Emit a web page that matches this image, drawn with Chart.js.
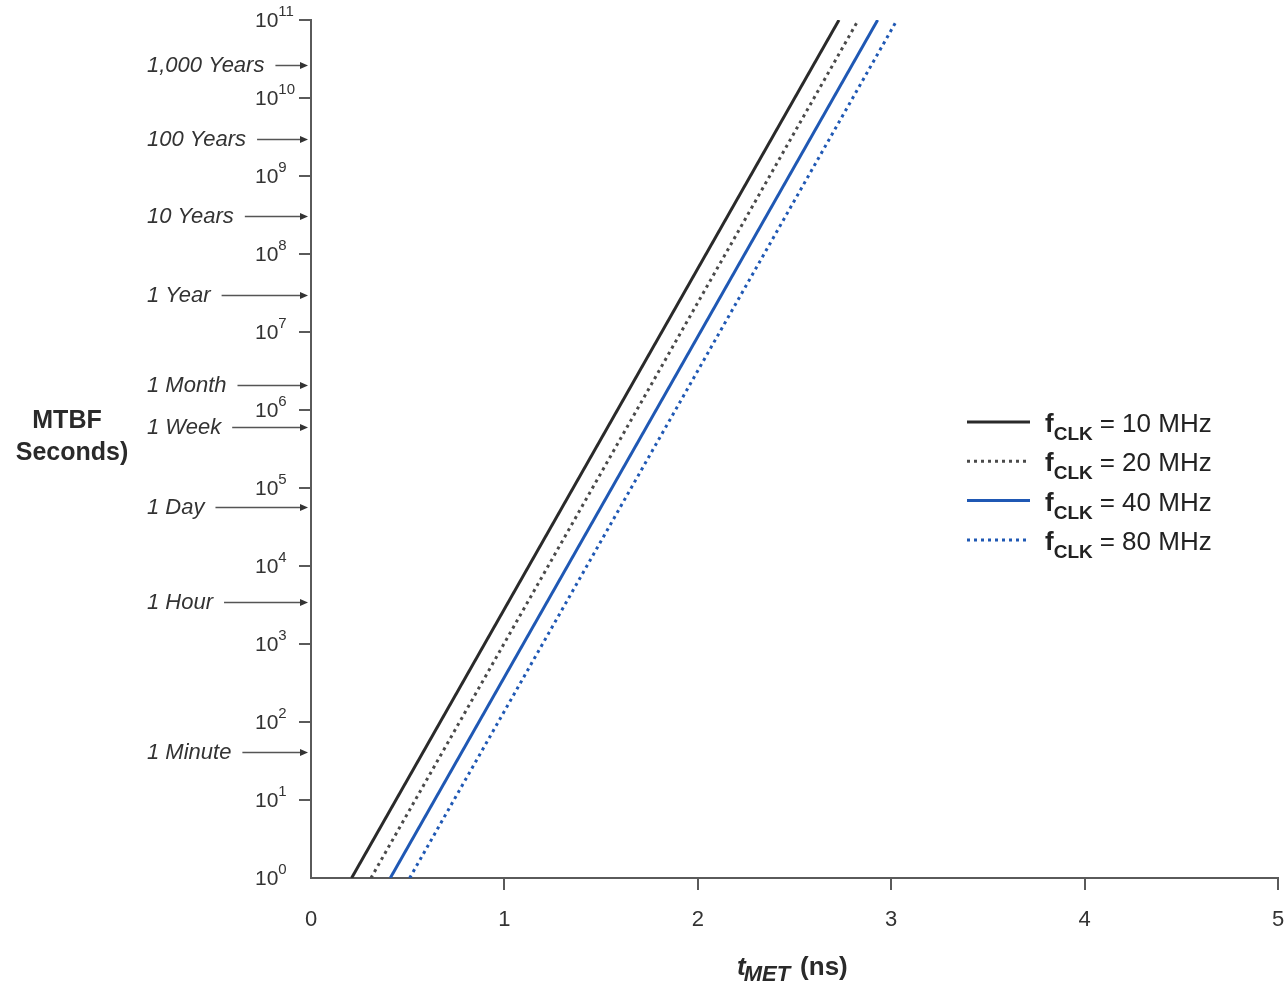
<!DOCTYPE html>
<html>
<head>
<meta charset="utf-8">
<title>MTBF vs tMET</title>
<script src="https://cdn.jsdelivr.net/npm/chart.js@4.4.1/dist/chart.umd.min.js"></script>
<style>
  html, body { margin: 0; padding: 0; background: #fff; }
  #wrap { width: 1287px; height: 982px; }
</style>
</head>
<body>
<div id="wrap"><canvas id="mtbfChart" width="1287" height="982"></canvas></div>
<script>
// series: endpoints of each straight line (tMET in ns, MTBF in seconds)
const seriesFreqs = [10, 20, 40, 80];
const tStart = [0.21, 0.31, 0.41, 0.51];
const tEnd = [2.73, 2.83, 2.93, 3.03];
const mtbfStart = [1, 1, 1, 1];
const mtbfEnd = [1e11, 1e11, 1e11, 1e11];

// axes
const xTickValues = [0, 1, 2, 3, 4, 5];
const yTickExponents = [0, 1, 2, 3, 4, 5, 6, 7, 8, 9, 10, 11];

// time markers on the MTBF axis (seconds)
const markerLabels = ['1,000 Years', '100 Years', '10 Years', '1 Year', '1 Month', '1 Week', '1 Day', '1 Hour', '1 Minute'];
const markerSeconds = [2.65e10, 2.98e9, 3.07e8, 2.98e7, 2.09e6, 6.05e5, 5.7e4, 3.45e3, 41];

const lineColors = ['#2a2a2a', '#4a4a4a', '#1f58b4', '#1f58b4'];
const lineDashes = [[], [3, 4], [], [3, 4]];

const FONT = '"Liberation Sans", Arial, Helvetica, sans-serif';
const AXIS_GREY = '#5a5a5a';
const NONE = 'rgba(0,0,0,0)';

const datasets = seriesFreqs.map((f, i) => ({
    label: 'fCLK = ' + f + ' MHz',
    data: [{x: tStart[i], y: mtbfStart[i]}, {x: tEnd[i], y: mtbfEnd[i]}],
    borderColor: lineColors[i],
    borderWidth: 3,
    borderDash: lineDashes[i],
    pointRadius: 0,
    showLine: true,
    fill: false
}));

// extra text: power-of-ten labels, marker arrows, axis titles, legend with subscripts
const decorPlugin = {
    id: 'mtbfDecor',
    afterDraw(chart) {
        const ctx = chart.ctx;
        const xs = chart.scales.x;
        const ys = chart.scales.y;
        ctx.save();

        // y tick labels 10^n
        ctx.fillStyle = '#333';
        ctx.textAlign = 'left';
        ctx.textBaseline = 'middle';
        ys.ticks.forEach(t => {
            const py = ys.getPixelForValue(t.value);
            const exp = Math.round(Math.log10(t.value));
            ctx.font = '21px ' + FONT;
            ctx.fillText('10', 255, py + 1);
            const w = ctx.measureText('10').width;
            ctx.font = '15px ' + FONT;
            ctx.fillText(String(exp), 255 + w, py - 8);
        });

        // time markers
        ctx.font = 'italic 22px ' + FONT;
        ctx.strokeStyle = '#555';
        ctx.lineWidth = 1.5;
        markerLabels.forEach((label, i) => {
            const py = Math.round(ys.getPixelForValue(markerSeconds[i])) + 0.5;
            const tx = 147;
            ctx.fillStyle = '#333';
            ctx.fillText(label, tx, py);
            const w = ctx.measureText(label).width;
            const x0 = tx + w + 11;
            const x1 = xs.left - 3;
            ctx.beginPath();
            ctx.moveTo(x0, py);
            ctx.lineTo(x1 - 6, py);
            ctx.stroke();
            ctx.beginPath();
            ctx.moveTo(x1, py);
            ctx.lineTo(x1 - 8, py - 3.5);
            ctx.lineTo(x1 - 8, py + 3.5);
            ctx.closePath();
            ctx.fill();
        });

        // y axis title
        ctx.fillStyle = '#2a2a2a';
        ctx.font = 'bold 25px ' + FONT;
        ctx.textAlign = 'center';
        ctx.fillText('MTBF', 67, 421);
        ctx.fillText('Seconds)', 72, 453);

        // x axis title: t_MET (ns)
        ctx.textAlign = 'left';
        ctx.textBaseline = 'alphabetic';
        let cx = 737;
        const by = 975;
        ctx.font = 'italic bold 26px ' + FONT;
        ctx.fillText('t', cx, by);
        cx += ctx.measureText('t').width - 2;
        ctx.font = 'italic bold 22px ' + FONT;
        ctx.fillText('MET', cx, by + 6);
        cx += ctx.measureText('MET').width + 10;
        ctx.font = 'bold 26px ' + FONT;
        ctx.fillText('(ns)', cx, by);

        // legend
        chart.data.datasets.forEach((ds, i) => {
            const ly = 422 + i * 39.3;
            ctx.save();
            ctx.strokeStyle = ds.borderColor;
            ctx.lineWidth = 3;
            ctx.setLineDash(ds.borderDash);
            ctx.beginPath();
            ctx.moveTo(967, ly);
            ctx.lineTo(1030, ly);
            ctx.stroke();
            ctx.restore();

            let lx = 1045;
            const base = ly + 10;
            ctx.fillStyle = '#222';
            ctx.font = 'bold 26px ' + FONT;
            ctx.fillText('f', lx, base);
            lx += ctx.measureText('f').width;
            ctx.font = 'bold 19px ' + FONT;
            ctx.fillText('CLK', lx, base + 8);
            lx += ctx.measureText('CLK').width + 7;
            ctx.font = '26px ' + FONT;
            ctx.fillText('= ' + seriesFreqs[i] + ' MHz', lx, base);
        });

        ctx.restore();
    }
};

new Chart(document.getElementById('mtbfChart'), {
    type: 'scatter',
    data: { datasets: datasets },
    options: {
        responsive: false,
        animation: false,
        devicePixelRatio: 1,
        layout: { padding: { top: 20, right: 9, left: 0, bottom: 0 } },
        plugins: {
            legend: { display: false },
            tooltip: { enabled: false }
        },
        scales: {
            x: {
                type: 'linear',
                min: 0,
                max: 5,
                afterFit: (scale) => {
                    scale.height = 104;
                    scale.paddingLeft = 0;
                    scale.paddingRight = 0;
                },
                afterBuildTicks: (scale) => {
                    scale.ticks = xTickValues.map(v => ({value: v}));
                },
                border: { display: true, color: AXIS_GREY, width: 2 },
                grid: {
                    drawOnChartArea: false,
                    drawTicks: true,
                    tickLength: 12,
                    lineWidth: 2,
                    color: (c) => c.tick && c.tick.value === 0 ? NONE : AXIS_GREY
                },
                ticks: {
                    color: '#333',
                    padding: 17,
                    maxRotation: 0,
                    font: { family: FONT, size: 22 }
                }
            },
            y: {
                type: 'logarithmic',
                min: 1,
                max: 1e11,
                afterFit: (scale) => {
                    scale.width = 311;
                    scale.paddingTop = 0;
                    scale.paddingBottom = 0;
                },
                afterBuildTicks: (scale) => {
                    scale.ticks = yTickExponents.map(e => ({value: Math.pow(10, e)}));
                },
                border: { display: true, color: AXIS_GREY, width: 2 },
                grid: {
                    drawOnChartArea: false,
                    drawTicks: true,
                    tickLength: 12,
                    lineWidth: 2,
                    color: (c) => c.tick && c.tick.value === 1 ? NONE : AXIS_GREY
                },
                ticks: { display: false }
            }
        }
    },
    plugins: [decorPlugin]
});
</script>
</body>
</html>
